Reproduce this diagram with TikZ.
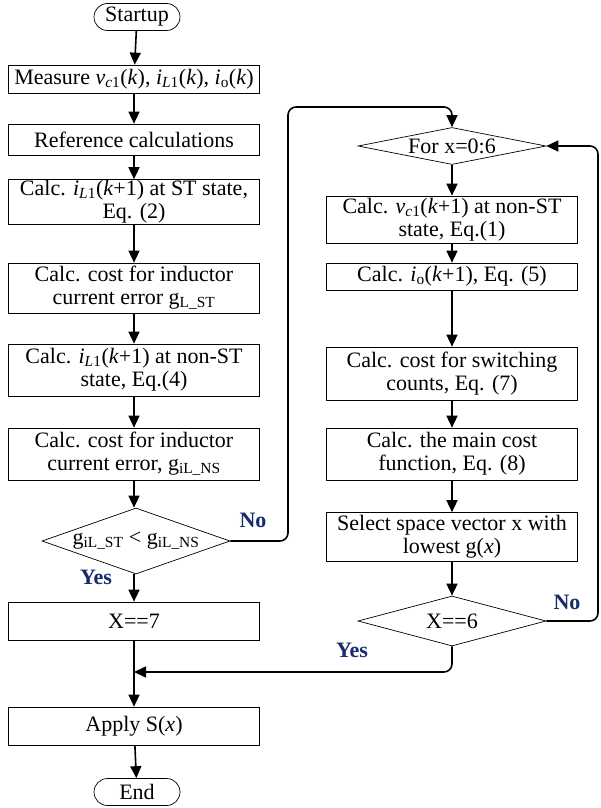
\documentclass[tikz,border=0pt]{standalone}
\usepackage{fontspec}
\setmainfont{Liberation Serif}
\usepackage{xcolor}
\usepackage{tikz}
\usetikzlibrary{arrows.meta,shapes.geometric,shapes.misc}

\definecolor{navy}{RGB}{22,42,110}
\newcommand{\iv}[1]{\textit{#1}}
\newcommand{\chartfont}{\fontsize{22}{23}\selectfont}

\tikzset{
  procbox/.style={rectangle, draw, line width=0.7pt, align=center, minimum width=251pt, inner sep=1pt},
  termbox/.style={rounded rectangle, draw, line width=0.7pt, minimum width=86pt, minimum height=27pt, inner sep=0pt},
  decbox/.style={diamond, draw, line width=0.7pt, inner sep=0pt, aspect=4},
  arr/.style={line width=1.6pt, -{Triangle[length=12pt,width=11pt]}},
  loopline/.style={arr, rounded corners=8pt},
  ans/.style={text=navy, font=\chartfont\bfseries}
}

\begin{document}
\begin{tikzpicture}[x=1pt, y=-1pt, font=\chartfont]
    \useasboundingbox (0,0) rectangle (600,808);

    % left column
    \node[termbox] (start) at (137, 17) {Startup};
    \node[procbox, minimum height=28pt] (meas) at (134, 79) {Measure \iv{v}\textsubscript{\iv{c}1}(\iv{k}), \iv{i}\textsubscript{\iv{L}1}(\iv{k}), \iv{i}\textsubscript{o}(\iv{k})};
    \node[procbox, minimum height=31pt] (ref) at (134, 139.5) {Reference calculations};
    \node[procbox, minimum height=40pt] (st) at (134, 202) {Calc. \iv{i}\textsubscript{\iv{L}1}(\iv{k}+1) at ST state,\\Eq. (2)};
    \node[procbox, minimum height=50pt] (gst) at (134, 288) {Calc. cost for inductor\\current error g\textsubscript{L\_ST}};
    \node[procbox, minimum height=52pt] (ns) at (134, 370) {Calc. \iv{i}\textsubscript{\iv{L}1}(\iv{k}+1) at non-ST\\state, Eq.(4)};
    \node[procbox, minimum height=52pt] (gns) at (134, 454) {Calc. cost for inductor\\current error, g\textsubscript{iL\_NS}};
    \node[decbox, minimum width=188pt, minimum height=66pt] (cmp) at (136, 541) {\makebox[0pt]{g\textsubscript{iL\_ST} < g\textsubscript{iL\_NS}}};
    \node[procbox, minimum height=38pt] (x7) at (134, 621) {X==7};
    \node[procbox, minimum height=38pt] (apply) at (134, 726) {Apply S(\iv{x})};
    \node[termbox] (end) at (137, 792) {End};

    % right column
    \node[decbox, minimum width=188pt, minimum height=37pt] (for) at (452, 146) {\makebox[0pt]{For x=0:6}};
    \node[procbox, minimum height=47pt] (vc) at (452, 219.5) {Calc. \iv{v}\textsubscript{\iv{c}1}(\iv{k}+1) at non-ST\\state, Eq.(1)};
    \node[procbox, minimum height=27pt] (io) at (452, 276.5) {Calc. \iv{i}\textsubscript{o}(\iv{k}+1), Eq. (5)};
    \node[procbox, minimum height=53pt] (sw) at (452, 373.5) {Calc. cost for switching\\counts, Eq. (7)};
    \node[procbox, minimum height=52pt] (mc) at (452, 454) {Calc. the main cost\\function, Eq. (8)};
    \node[procbox, minimum height=49pt] (sel) at (452, 537) {Select space vector x with\\lowest g(\iv{x})};
    \node[decbox, minimum width=188pt, minimum height=50pt] (x6) at (452, 621) {\makebox[0pt]{X==6}};

    \coordinate (lc) at (288, 107);
    \coordinate (rc) at (598, 146);
    \coordinate (join) at (134, 672);

    \draw[arr] (start) -- (meas);
    \draw[arr] (meas) -- (ref);
    \draw[arr] (ref) -- (st);
    \draw[arr] (st) -- (gst);
    \draw[arr] (gst) -- (ns);
    \draw[arr] (ns) -- (gns);
    \draw[arr] (gns) -- (gns |- cmp.north);
    \draw[arr] (cmp.south -| x7) -- (x7);
    \draw[arr] (x7) -- (apply);
    \draw[arr] (apply) -- (end);

    \draw[loopline] (cmp.east) -| (lc) -| (for.north);
    \draw[arr] (for) -- (vc);
    \draw[arr] (vc) -- (io);
    \draw[arr] (io) -- (sw);
    \draw[arr] (sw) -- (mc);
    \draw[arr] (mc) -- (sel);
    \draw[arr] (sel) -- (x6);
    \draw[loopline] (x6.east) -| (rc) -- (for.east);
    \draw[loopline] (x6.south) |- (join);

    \node[ans] (no1) at (253, 520) {No};
    \node[ans] (yes1) at (96, 577) {Yes};
    \node[ans] (no2) at (567, 602) {No};
    \node[ans] (yes2) at (352, 650) {Yes};
\end{tikzpicture}
\end{document}
